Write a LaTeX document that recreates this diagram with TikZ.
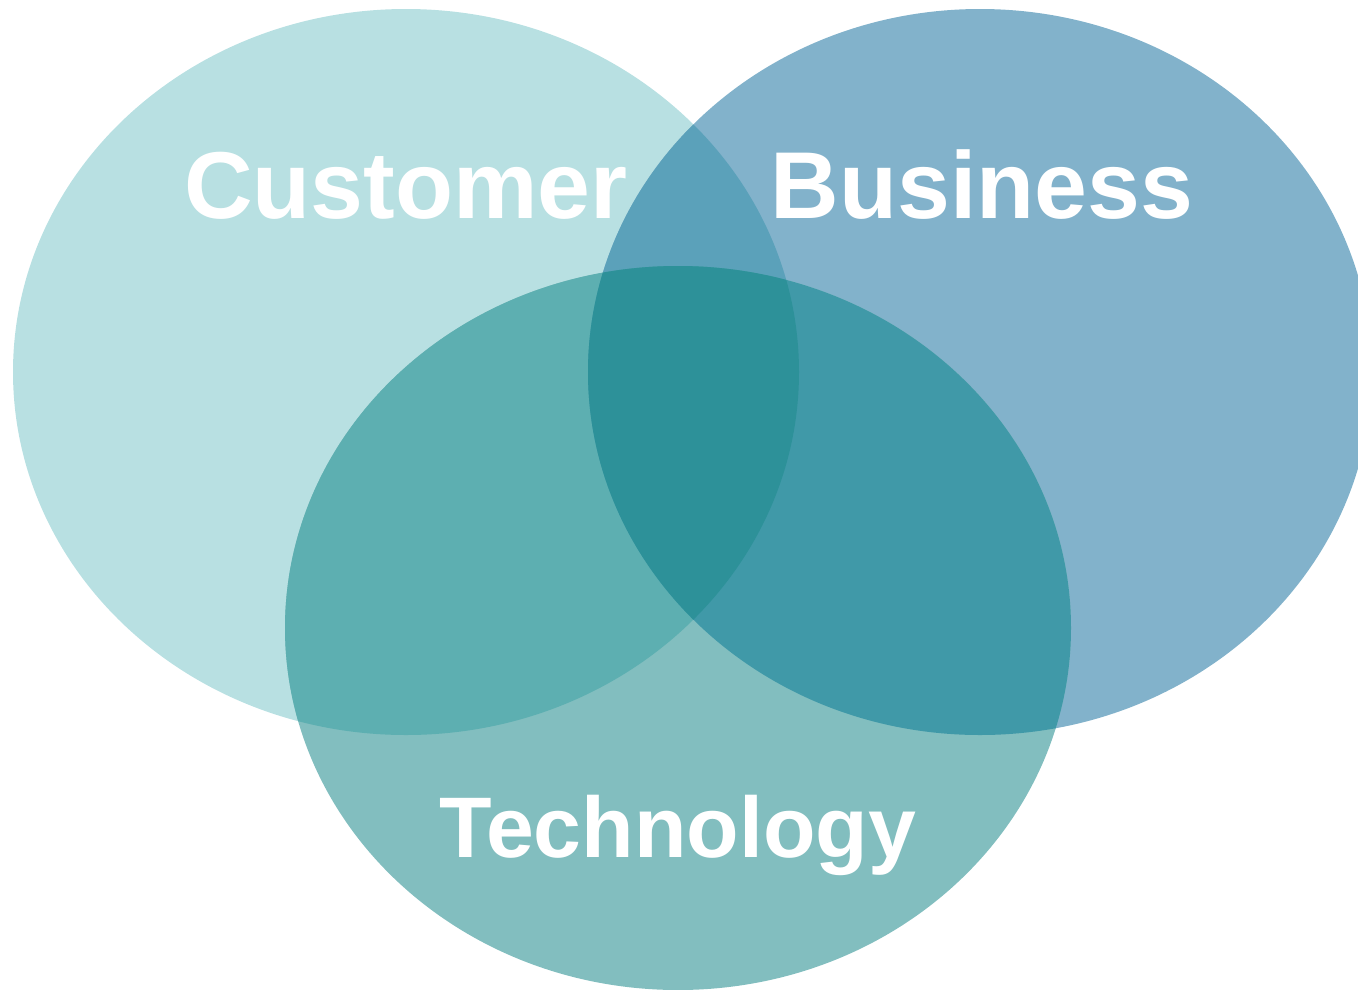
\documentclass[tikz,border=0pt]{standalone}
\usepackage{fontspec}
\setmainfont{Liberation Sans}
\definecolor{cC}{HTML}{B8E0E2}
\definecolor{cB}{HTML}{82B2CB}
\definecolor{cT}{HTML}{82BEBF}
\definecolor{cCB}{HTML}{5BA1BA}
\definecolor{cCT}{HTML}{5DAFB1}
\definecolor{cBT}{HTML}{4099A8}
\definecolor{cCBT}{HTML}{2D9199}
\begin{document}
\begin{tikzpicture}[x=1pt,y=-1pt,
  lbl/.style={text=white,font=\bfseries\fontsize{95}{100}\selectfont,anchor=base,inner sep=0pt}]
\useasboundingbox (0,0) rectangle (1358,989);
\def\elC{(406,372) ellipse [x radius=393pt, y radius=363pt]}
\def\elB{(980,372) ellipse [x radius=392pt, y radius=363pt]}
\def\elT{(678,628) ellipse [x radius=393pt, y radius=362pt]}
\fill[cC] \elC;
\fill[cB] \elB;
\fill[cT] \elT;
\begin{scope}
  \clip \elC; \fill[cCB] \elB;
\end{scope}
\begin{scope}
  \clip \elC; \fill[cCT] \elT;
\end{scope}
\begin{scope}
  \clip \elB; \fill[cBT] \elT;
\end{scope}
\begin{scope}
  \clip \elC; \clip \elB; \fill[cCBT] \elT;
\end{scope}
\node[lbl] (cust) at (406,218) {Customer};
\node[lbl] (bus) at (982,218) {Business};
\node[lbl,font=\bfseries\fontsize{86}{90}\selectfont] (tech) at (678,857) {Technology};
\end{tikzpicture}
\end{document}
